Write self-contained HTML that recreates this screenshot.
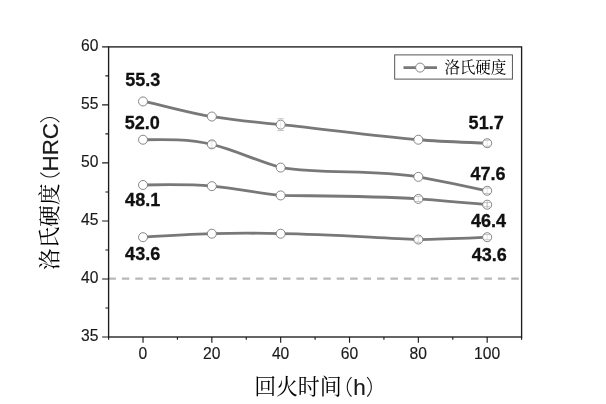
<!DOCTYPE html><html><head><meta charset="utf-8"><title>chart</title><style>html,body{margin:0;padding:0;background:#fff}</style></head><body><svg width="606" height="404" viewBox="0 0 606 404" style="display:block;will-change:transform;font-family:'Liberation Sans',sans-serif">
<rect width="606" height="404" fill="#fff"/>
<line x1="108.4" x2="521.6" y1="278.58" y2="278.58" stroke="#b9b9b9" stroke-width="2.2" stroke-dasharray="7.5 5.93"/>
<path d="M143.02,101.44C165.96,105.86 188.91,113.12 211.85,116.52C234.79,119.93 257.74,122.38 280.68,124.65C326.57,129.19 372.46,136.10 418.35,139.73C441.29,141.55 464.24,142.19 487.18,143.21" fill="none" stroke="#787878" stroke-width="2.8" stroke-linecap="round"/>
<path d="M143.02,139.73C165.96,139.30 188.91,138.87 211.85,144.37C234.79,149.87 257.74,161.32 280.68,167.58C326.57,174.54 372.46,169.13 418.35,176.86C441.29,181.12 464.24,185.76 487.18,190.79" fill="none" stroke="#787878" stroke-width="2.8" stroke-linecap="round"/>
<path d="M143.02,184.99C165.96,184.52 188.91,184.06 211.85,186.15C234.79,188.24 257.74,192.92 280.68,195.43C326.57,196.05 372.46,195.82 418.35,198.91C441.29,200.61 464.24,202.63 487.18,204.71" fill="none" stroke="#787878" stroke-width="2.8" stroke-linecap="round"/>
<path d="M143.02,237.21C165.96,235.81 188.91,234.43 211.85,233.72C234.79,233.02 257.74,233.00 280.68,233.72C326.57,234.19 372.46,237.67 418.35,239.53C441.29,239.14 464.24,238.13 487.18,237.21" fill="none" stroke="#787878" stroke-width="2.8" stroke-linecap="round"/>
<circle cx="143.02" cy="101.44" r="4.5" fill="#fff" stroke="#787878" stroke-width="0.9"/>
<circle cx="211.85" cy="116.52" r="4.5" fill="#fff" stroke="#787878" stroke-width="0.9"/>
<circle cx="280.68" cy="124.65" r="4.5" fill="#fff" stroke="#787878" stroke-width="0.9"/>
<circle cx="418.35" cy="139.73" r="4.5" fill="#fff" stroke="#787878" stroke-width="0.9"/>
<circle cx="487.18" cy="143.21" r="4.5" fill="#fff" stroke="#787878" stroke-width="0.9"/>
<circle cx="143.02" cy="139.73" r="4.5" fill="#fff" stroke="#787878" stroke-width="0.9"/>
<circle cx="211.85" cy="144.37" r="4.5" fill="#fff" stroke="#787878" stroke-width="0.9"/>
<circle cx="280.68" cy="167.58" r="4.5" fill="#fff" stroke="#787878" stroke-width="0.9"/>
<circle cx="418.35" cy="176.86" r="4.5" fill="#fff" stroke="#787878" stroke-width="0.9"/>
<circle cx="487.18" cy="190.79" r="4.5" fill="#fff" stroke="#787878" stroke-width="0.9"/>
<circle cx="143.02" cy="184.99" r="4.5" fill="#fff" stroke="#787878" stroke-width="0.9"/>
<circle cx="211.85" cy="186.15" r="4.5" fill="#fff" stroke="#787878" stroke-width="0.9"/>
<circle cx="280.68" cy="195.43" r="4.5" fill="#fff" stroke="#787878" stroke-width="0.9"/>
<circle cx="418.35" cy="198.91" r="4.5" fill="#fff" stroke="#787878" stroke-width="0.9"/>
<circle cx="487.18" cy="204.71" r="4.5" fill="#fff" stroke="#787878" stroke-width="0.9"/>
<circle cx="143.02" cy="237.21" r="4.5" fill="#fff" stroke="#787878" stroke-width="0.9"/>
<circle cx="211.85" cy="233.72" r="4.5" fill="#fff" stroke="#787878" stroke-width="0.9"/>
<circle cx="280.68" cy="233.72" r="4.5" fill="#fff" stroke="#787878" stroke-width="0.9"/>
<circle cx="418.35" cy="239.53" r="4.5" fill="#fff" stroke="#787878" stroke-width="0.9"/>
<circle cx="487.18" cy="237.21" r="4.5" fill="#fff" stroke="#787878" stroke-width="0.9"/>
<path d="M280.68,118.75V130.55M487.18,140.21V146.21M211.85,140.87V147.87M487.18,188.09V193.49M418.35,196.31V201.51M487.18,202.61V206.81M418.35,236.83V242.23M487.18,234.61V239.81" fill="none" stroke="#d4d4d4" stroke-width="0.6"/>
<path d="M487.18,201.11v7.2" fill="none" stroke="#aaa" stroke-width="0.6"/>
<path d="M277.48,118.75h6.4M277.48,130.55h6.4M483.98,140.21h6.4M483.98,146.21h6.4M208.65,140.87h6.4M208.65,147.87h6.4M483.98,188.09h6.4M483.98,193.49h6.4M415.15,196.31h6.4M415.15,201.51h6.4M483.98,202.61h6.4M483.98,206.81h6.4M415.15,236.83h6.4M415.15,242.23h6.4M483.98,234.61h6.4M483.98,239.81h6.4" fill="none" stroke="#999" stroke-width="0.6"/>
<rect x="108.6" y="46.9" width="413.0" height="290.1" fill="none" stroke="#1c1c1c" stroke-width="1.35"/>
<path d="M102.10,337.00H108.6M102.10,278.98H108.6M102.10,220.96H108.6M102.10,162.94H108.6M102.10,104.92H108.6M102.10,46.90H108.6M105.40,307.99H108.6M105.40,249.97H108.6M105.40,191.95H108.6M105.40,133.93H108.6M105.40,75.91H108.6M143.02,337.0V342.80M211.85,337.0V342.80M280.68,337.0V342.80M349.52,337.0V342.80M418.35,337.0V342.80M487.18,337.0V342.80M108.60,337.0V339.80M177.43,337.0V339.80M246.27,337.0V339.80M315.10,337.0V339.80M383.93,337.0V339.80M452.77,337.0V339.80M521.60,337.0V339.80" stroke="#1c1c1c" stroke-width="1.15" fill="none"/>
<text transform="translate(98.5,341.10) scale(0.985,1)" font-size="15.9" text-anchor="end" fill="#1a1a1a" stroke="#1a1a1a" stroke-width="0.15">35</text>
<text transform="translate(98.5,283.08) scale(0.985,1)" font-size="15.9" text-anchor="end" fill="#1a1a1a" stroke="#1a1a1a" stroke-width="0.15">40</text>
<text transform="translate(98.5,225.06) scale(0.985,1)" font-size="15.9" text-anchor="end" fill="#1a1a1a" stroke="#1a1a1a" stroke-width="0.15">45</text>
<text transform="translate(98.5,167.04) scale(0.985,1)" font-size="15.9" text-anchor="end" fill="#1a1a1a" stroke="#1a1a1a" stroke-width="0.15">50</text>
<text transform="translate(98.5,109.02) scale(0.985,1)" font-size="15.9" text-anchor="end" fill="#1a1a1a" stroke="#1a1a1a" stroke-width="0.15">55</text>
<text transform="translate(98.5,51.00) scale(0.985,1)" font-size="15.9" text-anchor="end" fill="#1a1a1a" stroke="#1a1a1a" stroke-width="0.15">60</text>
<text transform="translate(142.92,358.9) scale(0.985,1)" font-size="15.9" text-anchor="middle" fill="#1a1a1a" stroke="#1a1a1a" stroke-width="0.15">0</text>
<text transform="translate(211.75,358.9) scale(0.985,1)" font-size="15.9" text-anchor="middle" fill="#1a1a1a" stroke="#1a1a1a" stroke-width="0.15">20</text>
<text transform="translate(280.58,358.9) scale(0.985,1)" font-size="15.9" text-anchor="middle" fill="#1a1a1a" stroke="#1a1a1a" stroke-width="0.15">40</text>
<text transform="translate(349.42,358.9) scale(0.985,1)" font-size="15.9" text-anchor="middle" fill="#1a1a1a" stroke="#1a1a1a" stroke-width="0.15">60</text>
<text transform="translate(418.25,358.9) scale(0.985,1)" font-size="15.9" text-anchor="middle" fill="#1a1a1a" stroke="#1a1a1a" stroke-width="0.15">80</text>
<text transform="translate(487.08,358.9) scale(0.985,1)" font-size="15.9" text-anchor="middle" fill="#1a1a1a" stroke="#1a1a1a" stroke-width="0.15">100</text>
<text transform="translate(125.19999999999999,85.60000000000001) scale(0.95,1)" font-size="19.0" font-weight="bold" fill="#111" stroke="#111" stroke-width="0.3">55.3</text>
<text transform="translate(124.69999999999999,128.5) scale(0.95,1)" font-size="19.0" font-weight="bold" fill="#111" stroke="#111" stroke-width="0.3">52.0</text>
<text transform="translate(125.1,206.20000000000002) scale(0.95,1)" font-size="19.0" font-weight="bold" fill="#111" stroke="#111" stroke-width="0.3">48.1</text>
<text transform="translate(125.1,259.9) scale(0.95,1)" font-size="19.0" font-weight="bold" fill="#111" stroke="#111" stroke-width="0.3">43.6</text>
<text transform="translate(468.6,129.20000000000002) scale(0.95,1)" font-size="19.0" font-weight="bold" fill="#111" stroke="#111" stroke-width="0.3">51.7</text>
<text transform="translate(470.40000000000003,179.70000000000002) scale(0.95,1)" font-size="19.0" font-weight="bold" fill="#111" stroke="#111" stroke-width="0.3">47.6</text>
<text transform="translate(470.90000000000003,227.1) scale(0.95,1)" font-size="19.0" font-weight="bold" fill="#111" stroke="#111" stroke-width="0.3">46.4</text>
<text transform="translate(471.70000000000005,261.09999999999997) scale(0.95,1)" font-size="19.0" font-weight="bold" fill="#111" stroke="#111" stroke-width="0.3">43.6</text>
<rect x="394.7" y="54.9" width="117.7" height="24.2" fill="#fff" stroke="#4d4d4d" stroke-width="0.95"/>
<line x1="403.5" x2="437" y1="67.6" y2="67.6" stroke="#787878" stroke-width="2.8"/>
<circle cx="420.1" cy="67.6" r="4.5" fill="#fff" stroke="#787878" stroke-width="0.9"/>
<text x="444.4" y="73.2" font-size="15.6" textLength="62" lengthAdjust="spacing" fill="#000" style="font-family:'Liberation Serif','Noto Serif CJK SC',serif">洛氏硬度</text>
<text x="254.2" y="394.3" font-size="22" textLength="87.5" lengthAdjust="spacing" fill="#000" style="font-family:'Liberation Serif','Noto Serif CJK SC',serif">回火时间</text>
<text x="353.2" y="394.8" font-size="22.5" fill="#1a1a1a" stroke="#1a1a1a" stroke-width="0.2">h</text>
<path d="M351.50,377.10C345.83,382.98 345.83,390.82 351.50,396.70M367.20,377.10C372.73,382.98 372.73,390.82 367.20,396.70M40.30,172.70C46.09,178.50 53.81,178.50 59.60,172.70M40.30,122.10C46.00,116.03 53.60,116.03 59.30,122.10" fill="none" stroke="#1a1a1a" stroke-width="1.1"/>
<g transform="rotate(-90)" fill="#000"><text x="-270" y="57" font-size="21.5" textLength="86.5" lengthAdjust="spacing" fill="#000" style="font-family:'Liberation Serif','Noto Serif CJK SC',serif">洛氏硬度</text> <text x="-171.5" y="57.6" font-size="22.4" fill="#1a1a1a" stroke="#1a1a1a" stroke-width="0.2">HRC</text></g>
</svg></body></html>
